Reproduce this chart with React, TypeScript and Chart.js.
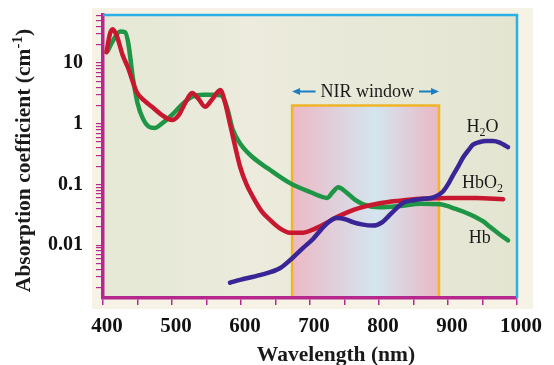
import React, { useEffect, useRef } from "react";
import { Chart, registerables } from "chart.js";
Chart.register(...registerables);

// ---- Data ----
const hbWavelength = [407, 415, 425, 432, 437, 443, 450, 458, 466, 475, 485, 500, 515, 530, 545, 560, 572, 580, 588, 600, 617, 640, 671, 700, 725, 733, 741, 752, 765, 777, 801, 830, 860, 888, 910, 932, 950, 961, 975, 987];
const hbValues = [16, 24, 33, 32, 20, 6, 2.2, 1.2, 0.9, 0.85, 1.0, 1.4, 2.1, 2.8, 3.0, 3.0, 2.9, 1.8, 0.8, 0.45, 0.28, 0.18, 0.105, 0.075, 0.06, 0.075, 0.09, 0.075, 0.056, 0.047, 0.042, 0.044, 0.048, 0.047, 0.04, 0.032, 0.025, 0.02, 0.015, 0.012];

const hbo2Wavelength = [405, 410, 414, 420, 428, 436, 449, 460, 471, 485, 500, 510, 520, 529, 538, 548, 558, 570, 577, 584, 592, 599, 608, 617, 630, 642, 656, 671, 690, 704, 720, 739, 755, 772, 801, 830, 860, 900, 940, 980];
const hbo2Values = [15, 30, 36, 28, 14, 8.5, 3.3, 2.4, 1.9, 1.4, 1.15, 1.4, 2.3, 3.2, 2.6, 1.9, 2.5, 3.6, 2.2, 1.0, 0.4, 0.19, 0.1, 0.063, 0.036, 0.026, 0.019, 0.016, 0.016, 0.018, 0.022, 0.029, 0.035, 0.041, 0.049, 0.054, 0.058, 0.06, 0.06, 0.057];

const h2oWavelength = [584, 600, 627, 657, 675, 690, 704, 714, 725, 739, 750, 762, 775, 791, 805, 815, 825, 835, 850, 865, 880, 892, 900, 907, 915, 922, 930, 936, 946, 955, 965, 975, 981, 987];
const h2oValues = [0.0024, 0.0027, 0.0032, 0.0042, 0.0062, 0.009, 0.0125, 0.017, 0.023, 0.028, 0.027, 0.024, 0.022, 0.021, 0.024, 0.031, 0.04, 0.05, 0.055, 0.058, 0.062, 0.075, 0.1, 0.14, 0.2, 0.28, 0.37, 0.45, 0.5, 0.52, 0.52, 0.49, 0.45, 0.41];

const xTickLabels = [400, 500, 600, 700, 800, 900, 1000];
const yTickLabels = [0.01, 0.1, 1, 10];
const nirWindow = [674, 887];
const nirTop = 2.0;
const nirText = "NIR window";
const yTitle = "Absorption coefficient (cm";
const yTitleSup = "-1";
const xTitle = "Wavelength (nm)";

const GREEN = "#1f9646";
const RED = "#c8182f";
const PURPLE = "#3a2596";
const MAGENTA = "#b7288f";
const CYAN = "#2bb0e6";
const ORANGE = "#f0b429";
const SERIF = "'Liberation Serif', 'DejaVu Serif', serif";

function toPoints(xs: number[], ys: number[]) {
  return xs.map((x, i) => ({ x, y: ys[i] }));
}

type Part = { t: string; sub?: boolean; sup?: boolean };

function drawParts(ctx: CanvasRenderingContext2D, parts: Part[], cx: number, cy: number, size: number, weight: string) {
  const big = `${weight} ${size}px ${SERIF}`;
  const small = `${weight} ${Math.round(size * 0.68)}px ${SERIF}`;
  let total = 0;
  const widths = parts.map((p) => {
    ctx.font = p.sub || p.sup ? small : big;
    const w = ctx.measureText(p.t).width;
    total += w;
    return w;
  });
  let x = cx - total / 2;
  ctx.textAlign = "left";
  ctx.textBaseline = "alphabetic";
  const base = cy + size * 0.33;
  parts.forEach((p, i) => {
    ctx.font = p.sub || p.sup ? small : big;
    const dy = p.sub ? size * 0.25 : p.sup ? -size * 0.38 : 0;
    ctx.fillText(p.t, x, base + dy);
    x += widths[i];
  });
}

const decor = {
  id: "decor",
  beforeDraw(chart: any) {
    const { ctx, chartArea: a, scales } = chart;
    const x = scales.x;
    const y = scales.y;
    ctx.save();
    ctx.fillStyle = "#ffffff";
    ctx.fillRect(0, 0, chart.width, chart.height);
    ctx.fillStyle = "#f6f3e6";
    ctx.fillRect(a.left - 11, a.top - 7, a.width + 27, a.height + 18);
    const bg = ctx.createLinearGradient(a.left, 0, a.right, 0);
    bg.addColorStop(0, "#e4e8d4");
    bg.addColorStop(0.35, "#ecebdd");
    bg.addColorStop(1, "#e3e5d1");
    ctx.fillStyle = bg;
    ctx.fillRect(a.left, a.top, a.width, a.height);
    // NIR window
    const x0 = x.getPixelForValue(nirWindow[0]);
    const x1 = x.getPixelForValue(nirWindow[1]);
    const yt = y.getPixelForValue(nirTop);
    const g = ctx.createLinearGradient(x0, 0, x1, 0);
    g.addColorStop(0, "#ecb9c5");
    g.addColorStop(0.57, "#d4e5ef");
    g.addColorStop(1, "#e9b8c4");
    ctx.fillStyle = g;
    ctx.fillRect(x0, yt, x1 - x0, a.bottom - yt);
    ctx.strokeStyle = ORANGE;
    ctx.lineWidth = 2.5;
    ctx.beginPath();
    ctx.moveTo(x0, a.bottom);
    ctx.lineTo(x0, yt);
    ctx.lineTo(x1, yt);
    ctx.lineTo(x1, a.bottom);
    ctx.stroke();
    ctx.restore();
  },
  afterDraw(chart: any) {
    const { ctx, chartArea: a, scales } = chart;
    const x = scales.x;
    const y = scales.y;
    ctx.save();
    // cyan frame
    ctx.strokeStyle = CYAN;
    ctx.lineWidth = 2.5;
    ctx.beginPath();
    ctx.moveTo(a.left, a.top);
    ctx.lineTo(a.right, a.top);
    ctx.lineTo(a.right, a.bottom);
    ctx.stroke();

    // NIR window label + arrows
    const x0 = x.getPixelForValue(nirWindow[0]);
    const x1 = x.getPixelForValue(nirWindow[1]);
    const ay = y.getPixelForValue(3.4);
    const cx = x.getPixelForValue(783);
    ctx.fillStyle = "#1a1a1a";
    ctx.font = `18px ${SERIF}`;
    ctx.textAlign = "center";
    ctx.textBaseline = "middle";
    ctx.fillText(nirText, cx, ay + 1);
    const tw = ctx.measureText(nirText).width;
    ctx.strokeStyle = "#1b7fc4";
    ctx.fillStyle = "#1b7fc4";
    ctx.lineWidth = 2;
    const la = cx - tw / 2 - 5;
    const ra = cx + tw / 2 + 5;
    ctx.beginPath();
    ctx.moveTo(x0 + 5, ay);
    ctx.lineTo(la, ay);
    ctx.moveTo(ra, ay);
    ctx.lineTo(x1 - 5, ay);
    ctx.stroke();
    ctx.beginPath();
    ctx.moveTo(x0, ay);
    ctx.lineTo(x0 + 8, ay - 3.5);
    ctx.lineTo(x0 + 8, ay + 3.5);
    ctx.closePath();
    ctx.moveTo(x1, ay);
    ctx.lineTo(x1 - 8, ay - 3.5);
    ctx.lineTo(x1 - 8, ay + 3.5);
    ctx.closePath();
    ctx.fill();

    // series labels
    ctx.fillStyle = "#1a1a1a";
    drawParts(ctx, [{ t: "H" }, { t: "2", sub: true }, { t: "O" }], x.getPixelForValue(950), y.getPixelForValue(0.92), 18, "normal");
    drawParts(ctx, [{ t: "HbO" }, { t: "2", sub: true }], x.getPixelForValue(950), y.getPixelForValue(0.11), 18, "normal");
    drawParts(ctx, [{ t: "Hb" }], x.getPixelForValue(946), y.getPixelForValue(0.0135), 18, "normal");

    // axis titles
    ctx.save();
    ctx.translate(23, (a.top + a.bottom) / 2 + 4);
    ctx.rotate(-Math.PI / 2);
    drawParts(ctx, [{ t: yTitle }, { t: yTitleSup, sup: true }, { t: ")" }], 0, 0, 21.5, "bold");
    ctx.restore();
    drawParts(ctx, [{ t: xTitle }], (a.left + a.right) / 2 + 26, chart.height - 11, 21.5, "bold");
    ctx.restore();
  },
};

function logTicks(min: number, max: number) {
  const out: { value: number }[] = [];
  for (let k = -4; k <= 2; k++) {
    for (let d = 1; d <= 9; d++) {
      const v = Number((d * Math.pow(10, k)).toPrecision(6));
      if (v >= min && v <= max) out.push({ value: v });
    }
  }
  return out;
}

export default function App() {
  const ref = useRef<HTMLCanvasElement | null>(null);
  useEffect(() => {
    if (!ref.current) return;
    Chart.defaults.font.family = SERIF;
    const yMin = 0.001346;
    const yMax = 61.8;
    const chart = new Chart(ref.current, {
      type: "line",
      data: {
        datasets: [
          { label: "H2O", data: toPoints(h2oWavelength, h2oValues), borderColor: PURPLE, order: 0 },
          { label: "HbO2", data: toPoints(hbo2Wavelength, hbo2Values), borderColor: RED, order: 1 },
          { label: "Hb", data: toPoints(hbWavelength, hbValues), borderColor: GREEN, order: 2 },
        ].map((d) => ({
          ...d,
          borderWidth: 4.5,
          pointRadius: 0,
          fill: false,
          cubicInterpolationMode: "monotone" as const,
          borderCapStyle: "round" as const,
          borderJoinStyle: "round" as const,
        })),
      },
      options: {
        animation: false,
        responsive: false,
        devicePixelRatio: 1,
        layout: { padding: { left: 0, top: 15, right: 37, bottom: 0 } },
        plugins: { legend: { display: false }, tooltip: { enabled: false } },
        scales: {
          x: {
            type: "linear",
            min: 400,
            max: 1000,
            bounds: "data",
            afterBuildTicks: (s: any) => {
              const t: { value: number }[] = [];
              for (let v = 400; v <= 1000; v += 50) t.push({ value: v });
              s.ticks = t;
            },
            afterFit: (s: any) => {
              s.height = 67;
              s.paddingLeft = 0;
              s.paddingRight = 0;
            },
            ticks: {
              autoSkip: false,
              maxRotation: 0,
              padding: 9,
              labelOffset: 4,
              color: "#111",
              font: { size: 21, weight: "bold", family: SERIF },
              callback: (v: any) => (xTickLabels.includes(Number(v)) ? String(v) : ""),
            },
            grid: { drawOnChartArea: false, drawTicks: true, tickLength: 7, color: MAGENTA, lineWidth: 1.5 },
            border: { display: true, color: MAGENTA, width: 3.5 },
          },
          y: {
            type: "logarithmic",
            min: yMin,
            max: yMax,
            bounds: "data",
            afterBuildTicks: (s: any) => {
              s.ticks = logTicks(yMin, yMax);
            },
            afterFit: (s: any) => {
              s.width = 103;
              s.paddingTop = 0;
              s.paddingBottom = 0;
            },
            ticks: {
              autoSkip: false,
              padding: 13,
              color: "#111",
              font: { size: 20, weight: "bold", family: SERIF },
              callback: (v: any) => {
                const n = Number(v);
                const hit = yTickLabels.find((t) => Math.abs(t - n) / t < 1e-6);
                return hit !== undefined ? String(hit) : "";
              },
            },
            grid: { drawOnChartArea: false, drawTicks: true, tickLength: 7, color: MAGENTA, lineWidth: 1.2 },
            border: { display: true, color: MAGENTA, width: 3.5 },
          },
        },
      },
      plugins: [decor],
    } as any);
    return () => chart.destroy();
  }, []);
  return (
    <div style={{ position: "absolute", left: 0, top: 0, width: 554, height: 365 }}>
      <canvas ref={ref} width={554} height={365} style={{ width: 554, height: 365, display: "block" }} />
    </div>
  );
}
